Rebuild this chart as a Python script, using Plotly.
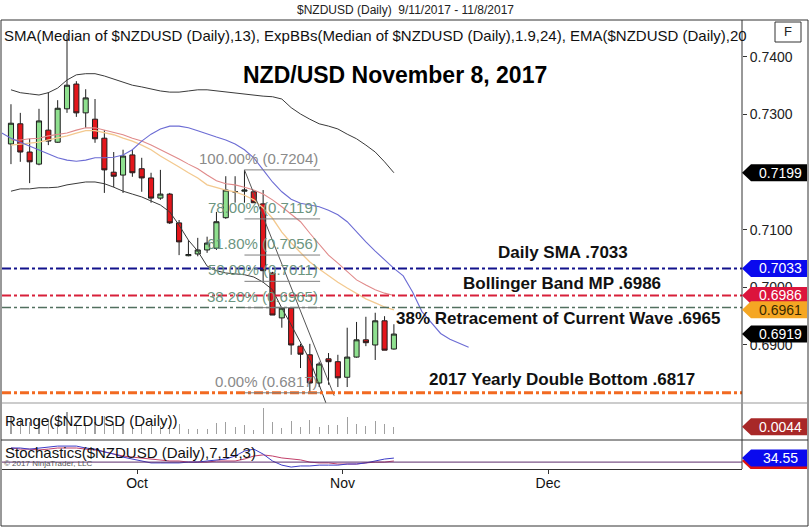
import numpy as np
import pandas as pd
import plotly.graph_objects as go

# ---------------- data ----------------
dates = pd.bdate_range("2017-09-12", "2017-11-08")
calendar = pd.bdate_range("2017-09-12", "2017-12-29")
month_labels = ["Oct", "Nov", "Dec"]
price_ticks = [0.69, 0.70, 0.71, 0.73, 0.74]

opens = [0.7249, 0.7284, 0.7235, 0.7214, 0.7273, 0.7252, 0.7310, 0.7353, 0.7303, 0.7292,
         0.7259, 0.7200, 0.7195, 0.7230, 0.7206, 0.7190, 0.7155, 0.7162, 0.7112, 0.7055,
         0.7058, 0.7065, 0.7068, 0.7121, 0.7166, 0.7167, 0.7166, 0.7145, 0.7025, 0.6947,
         0.6964, 0.6898, 0.6883, 0.6834, 0.6876, 0.6871, 0.6844, 0.6879, 0.6909, 0.6900,
         0.6942, 0.6893]
highs = [0.7318, 0.7303, 0.7258, 0.7310, 0.7339, 0.7325, 0.7438, 0.7358, 0.7344, 0.7327,
         0.7273, 0.7235, 0.7239, 0.7239, 0.7225, 0.7199, 0.7204, 0.7164, 0.7117, 0.7082,
         0.7086, 0.7088, 0.7131, 0.7193, 0.7193, 0.7204, 0.7169, 0.7169, 0.7027, 0.6966,
         0.6966, 0.6902, 0.6902, 0.6871, 0.6886, 0.6883, 0.6930, 0.6940, 0.6949, 0.6956,
         0.6950, 0.6936]
lows = [0.7214, 0.7218, 0.7181, 0.7212, 0.7247, 0.7251, 0.7303, 0.7296, 0.7277, 0.7251,
        0.7164, 0.7174, 0.7164, 0.7192, 0.7166, 0.7147, 0.7152, 0.7110, 0.7056, 0.7054,
        0.7054, 0.7060, 0.7065, 0.7119, 0.7147, 0.7147, 0.7147, 0.7009, 0.6952, 0.6930,
        0.6883, 0.6860, 0.6817, 0.6827, 0.6831, 0.6827, 0.6827, 0.6878, 0.6898, 0.6874,
        0.6891, 0.6892]
closes = [0.7285, 0.7235, 0.7218, 0.7289, 0.7254, 0.7311, 0.7351, 0.7303, 0.7329, 0.7258,
          0.7204, 0.7193, 0.7228, 0.7199, 0.7190, 0.7155, 0.7162, 0.7112, 0.7079, 0.7057,
          0.7065, 0.7077, 0.7114, 0.7169, 0.7166, 0.7169, 0.7147, 0.7029, 0.6952, 0.6964,
          0.6900, 0.6884, 0.6834, 0.6867, 0.6871, 0.6843, 0.6879, 0.6909, 0.6904, 0.6942,
          0.6891, 0.6919]

upper_band = [0.7343, 0.7338, 0.7336, 0.7334, 0.7338, 0.7346, 0.7360, 0.7369, 0.7371, 0.7371,
              0.7367, 0.7362, 0.7357, 0.7351, 0.7348, 0.7344, 0.7341, 0.7339, 0.7339, 0.7341,
              0.7343, 0.7343, 0.7341, 0.7339, 0.7338, 0.7336, 0.7334, 0.7332, 0.7331, 0.7327,
              0.7312, 0.7301, 0.7292, 0.7284, 0.7280, 0.7275, 0.7266, 0.7258, 0.7247, 0.7235,
              0.7218, 0.7199]
mid_band = [0.7256, 0.7256, 0.7258, 0.7259, 0.7263, 0.7266, 0.7268, 0.7273, 0.7277, 0.7277,
            0.7273, 0.7270, 0.7265, 0.7259, 0.7254, 0.7247, 0.7239, 0.7232, 0.7223, 0.7214,
            0.7206, 0.7195, 0.7185, 0.7180, 0.7178, 0.7174, 0.7169, 0.7162, 0.7152, 0.7140,
            0.7127, 0.7114, 0.7094, 0.7074, 0.7056, 0.7042, 0.7027, 0.7013, 0.7004, 0.6996,
            0.6990, 0.6986]
lower_band = [0.7167, 0.7171, 0.7171, 0.7173, 0.7173, 0.7174, 0.7178, 0.7180, 0.7183, 0.7183,
              0.7180, 0.7174, 0.7167, 0.7162, 0.7157, 0.7150, 0.7143, 0.7131, 0.7108, 0.7082,
              0.7063, 0.7037, 0.7029, 0.7025, 0.7023, 0.7022, 0.7018, 0.7009, 0.6996, 0.6964,
              0.6935, 0.6905, 0.6874, 0.6831, 0.6787]
ema20 = [0.7247, 0.7249, 0.7251, 0.7252, 0.7256, 0.7259, 0.7263, 0.7268, 0.7272, 0.7272,
         0.7268, 0.7265, 0.7259, 0.7254, 0.7247, 0.7239, 0.7228, 0.7219, 0.7209, 0.7199,
         0.7190, 0.7178, 0.7173, 0.7169, 0.7166, 0.7160, 0.7152, 0.7138, 0.7120, 0.7096,
         0.7077, 0.7060, 0.7044, 0.7032, 0.7020, 0.7009, 0.6999, 0.6990, 0.6980, 0.6973,
         0.6966, 0.6961]
sma13_start = -1
sma13 = [0.7268, 0.7259, 0.7252, 0.7245, 0.7239, 0.7232, 0.7225, 0.7221, 0.7219, 0.7221,
         0.7225, 0.7225, 0.7226, 0.7230, 0.7239, 0.7254, 0.7266, 0.7275, 0.7280, 0.7280,
         0.7277, 0.7272, 0.7266, 0.7261, 0.7256, 0.7249, 0.7239, 0.7225, 0.7204, 0.7183,
         0.7166, 0.7153, 0.7146, 0.7143, 0.7140, 0.7134, 0.7126, 0.7114, 0.7096, 0.7079,
         0.7063, 0.7048, 0.7033, 0.7020, 0.6992, 0.6958, 0.6938, 0.6920, 0.6910, 0.6903,
         0.6896]
stoch_d = [71, 71, 67, 71, 75, 78, 78, 78, 71, 67, 57, 49, 38, 31, 24, 17, 17, 17, 17, 20,
           20, 24, 28, 31, 42, 60, 67, 49, 24, 9, 2, 6, 6, 9, 9, 9, 13, 13, 17, 24, 31, 34.55]
stoch_k = [71, 67, 67, 64, 67, 71, 71, 71, 67, 64, 57, 49, 42, 38, 35, 31, 28, 24, 24, 20,
           20, 20, 24, 24, 24, 31, 42, 46, 42, 35, 31, 28, 20, 17, 17, 13, 13, 13, 17, 20, 20, 24]

fib_high, fib_low = 0.7204, 0.6817
fib_levels = [1.0, 0.78, 0.618, 0.50, 0.382, 0.0]
fib_labels = ["100.00% (0.7204)", "78.00% (0.7119)", "61.80% (0.7056)",
              "50.00% (0.7011)", "38.20% (0.6965)", "0.00% (0.6817)"]
sma_line, bb_mid_line, retr_line, bottom_line = 0.7033, 0.6986, 0.6965, 0.6817

# ---------------- geometry helpers ----------------
W, H = 810, 528
X0, X1 = 2, 742
def px(x):
    return x / W
def py(y):
    return 1 - y / H

idx = np.arange(len(dates))
xr = [-0.96, 78.27]
y_price = [0.67993, 0.74642]
y_range = [-0.0037, 0.0191]
y_stoch = [-5, 100]
dom_price = [py(403), py(20)]
dom_range = [py(440), py(403)]
dom_stoch = [py(469), py(440)]

month_pos = []
for m in [10, 11, 12]:
    first = np.where(calendar.month == m)[0][0]
    month_pos.append(first - 0.5)

font = "Liberation Sans, Arial, sans-serif"
fig = go.Figure()

fig.add_trace(go.Scatter(x=idx, y=upper_band, mode="lines", line=dict(color="#3a3a3a", width=1), hoverinfo="skip"))
fig.add_trace(go.Scatter(x=idx[:len(lower_band)], y=lower_band, mode="lines", line=dict(color="#3a3a3a", width=1), hoverinfo="skip"))
fig.add_trace(go.Scatter(x=idx, y=ema20, mode="lines", line=dict(color="#f3c98f", width=1.3), hoverinfo="skip"))
fig.add_trace(go.Scatter(x=idx, y=mid_band, mode="lines", line=dict(color="#e08a8a", width=1.1), hoverinfo="skip"))
fig.add_trace(go.Scatter(x=np.arange(sma13_start, sma13_start + len(sma13)), y=sma13, mode="lines",
                         line=dict(color="#6c6cd4", width=1.1), hoverinfo="skip"))

# fib diagonal
fig.add_trace(go.Scatter(x=[25, 34.6], y=[fib_high, fib_low - 0.0005], mode="lines",
                         line=dict(color="#555", width=1), hoverinfo="skip"))

fig.add_trace(go.Candlestick(x=idx, open=opens, high=highs, low=lows, close=closes,
                             increasing=dict(line=dict(color="#1e1e1e", width=1), fillcolor="#8fe08f"),
                             decreasing=dict(line=dict(color="#1e1e1e", width=1), fillcolor="#e3161b"),
                             whiskerwidth=0, hoverinfo="skip"))

rng = np.array(highs) - np.array(lows)
fig.add_trace(go.Bar(x=idx, y=rng, width=0.12, marker=dict(color="#a0a0a0", line=dict(width=0)),
                     xaxis="x2", yaxis="y2", hoverinfo="skip"))

fig.add_trace(go.Scatter(x=idx, y=stoch_k, mode="lines", line=dict(color="#c2406a", width=1),
                         xaxis="x3", yaxis="y3", hoverinfo="skip"))
fig.add_trace(go.Scatter(x=idx, y=stoch_d, mode="lines", line=dict(color="#3d3dc8", width=1),
                         xaxis="x3", yaxis="y3", hoverinfo="skip"))

shapes = []
annos = []

def text(x, y, s, size, color="#111", xanchor="center", xref="paper", yref="paper", yshift=0, bold=False):
    annos.append(dict(x=x, y=y, xref=xref, yref=yref, text=f"<b>{s}</b>" if bold else s, showarrow=False,
                      xanchor=xanchor, yanchor="middle", yshift=yshift,
                      font=dict(family=font, size=size, color=color)))

# horizontal user lines
def hline(v, color, width, dash):
    shapes.append(dict(type="line", xref="paper", yref="y", x0=px(X0), x1=px(X1), y0=v, y1=v,
                       line=dict(color=color, width=width, dash=dash)))
hline(sma_line, "#12128c", 2, "dashdot")
hline(bb_mid_line, "#d8203a", 2, "dashdot")
hline(retr_line, "#52705f", 1.5, "dashdot")
hline(bottom_line, "#f26a21", 3, "dashdot")

# stochastic reference line
shapes.append(dict(type="line", xref="paper", yref="y3", x0=px(X0), x1=px(X1), y0=20, y1=20,
                   line=dict(color="#5a2a6a", width=1)))

# fib levels
for lvl, lab in zip(fib_levels, fib_labels):
    v = fib_low + lvl * (fib_high - fib_low)
    col = "#8a8a8a" if lvl in (1.0, 0.0) else "#6c957f"
    shapes.append(dict(type="line", xref="x", yref="y", x0=25, x1=33.1, y0=v, y1=v,
                       line=dict(color="#7f7f7f", width=1)))
    annos.append(dict(x=33.1, y=v, xref="x", yref="y", text=lab, showarrow=False, xanchor="right",
                      yanchor="bottom", yshift=1, font=dict(family=font, size=15, color=col)))

# frame lines
shapes.append(dict(type="rect", xref="paper", yref="paper", x0=px(1), x1=px(808), y0=py(526), y1=py(20),
                   line=dict(color="#333", width=1)))
shapes.append(dict(type="line", xref="paper", yref="paper", x0=px(X1), x1=px(X1), y0=py(469), y1=py(20),
                   line=dict(color="#333", width=1)))
shapes.append(dict(type="line", xref="paper", yref="paper", x0=px(1), x1=px(808), y0=py(403), y1=py(403),
                   line=dict(color="#999", width=1)))
shapes.append(dict(type="line", xref="paper", yref="paper", x0=px(1), x1=px(808), y0=py(440), y1=py(440),
                   line=dict(color="#333", width=1)))
shapes.append(dict(type="rect", xref="paper", yref="paper", x0=px(775), x1=px(801), y0=py(42), y1=py(22),
                   line=dict(color="#333", width=1), fillcolor="white"))
text(px(788), py(32), "F", 13, "#222")

# value flags
def flag(v, label, bg, fg, yref, yspan, panel_px):
    h = 8.5 * (yspan[1] - yspan[0]) / panel_px
    xt, xb, xe = px(742), px(751), px(807)
    shapes.append(dict(type="path", xref="paper", yref=yref,
                       path=f"M {xt},{v} L {xb},{v + h} L {xe},{v + h} L {xe},{v - h} L {xb},{v - h} Z",
                       fillcolor=bg, line=dict(width=0)))
    if label:
        text((xb + xe) / 2 + 0.002, v, label, 14, fg, yref=yref)

flag(upper_band[-1], f"{upper_band[-1]:.4f}", "#000000", "white", "y", y_price, 383)
flag(sma_line, f"{sma_line:.4f}", "#0a0aee", "white", "y", y_price, 383)
flag(mid_band[-1], f"{mid_band[-1]:.4f}", "#dc143c", "white", "y", y_price, 383)
flag(ema20[-1], f"{ema20[-1]:.4f}", "#f5a623", "#3a2a00", "y", y_price, 383)
flag(closes[-1], f"{closes[-1]:.4f}", "#000000", "white", "y", y_price, 383)
flag(float(rng[-1]), f"{rng[-1]:.4f}", "#a82828", "white", "y2", y_range, 37)
flag(stoch_k[-1], "", "#dd1111", "white", "y3", y_stoch, 29)
flag(stoch_d[-1], f"{stoch_d[-1]:.2f}", "#0a0aee", "white", "y3", y_stoch, 29)

# texts
text(px(405), py(10), "$NZDUSD (Daily)  9/11/2017 - 11/8/2017", 12, "#222")
text(px(2), py(35), "SMA(Median of $NZDUSD (Daily),13), ExpBBs(Median of $NZDUSD (Daily),1.9,24), EMA($NZDUSD (Daily),20",
     15, "#111", xanchor="left")
text(px(395), py(75), "NZD/USD November 8, 2017", 23, "#000", bold=True)
text(px(563), sma_line, "Daily SMA .7033", 17, yref="y", yshift=16, bold=True)
text(px(562), bb_mid_line, "Bollinger Band MP .6986", 17, yref="y", yshift=12, bold=True)
text(px(558), retr_line, "38% Retracement of Current Wave .6965", 17, yref="y", yshift=-11, bold=True)
text(px(562), bottom_line, "2017 Yearly Double Bottom .6817", 17, yref="y", yshift=13, bold=True)
text(px(3), py(420), "Range($NZDUSD (Daily))", 15, xanchor="left")
text(px(3), py(452), "Stochastics($NZDUSD (Daily),7,14,3)", 15, xanchor="left")
text(px(2), py(463), "© 2017 NinjaTrader, LLC", 8, "#555", xanchor="left")

fig.update_layout(
    width=W, height=H, margin=dict(l=0, r=0, t=0, b=0),
    paper_bgcolor="white", plot_bgcolor="rgba(0,0,0,0)", showlegend=False,
    shapes=shapes, annotations=annos, boxgap=0.22,
    xaxis=dict(domain=[px(X0), px(X1)], range=xr, anchor="y", showticklabels=False, showgrid=False,
               zeroline=False, rangeslider=dict(visible=False), ticks=""),
    xaxis2=dict(domain=[px(X0), px(X1)], range=xr, anchor="y2", matches="x", showticklabels=False,
                showgrid=False, zeroline=False),
    xaxis3=dict(domain=[px(X0), px(X1)], range=xr, anchor="y3", matches="x", showgrid=False, zeroline=False,
                tickvals=month_pos, ticktext=month_labels, ticks="outside", ticklen=4, tickcolor="#333",
                ticklabelstandoff=-3,
                showline=True, linecolor="#333", tickfont=dict(family=font, size=14, color="#111")),
    yaxis=dict(domain=dom_price, range=y_price, side="right", showgrid=False, zeroline=False,
               tickvals=price_ticks, tickformat=".4f", ticks="outside", ticklen=4,
               tickcolor="#333", tickfont=dict(family=font, size=14, color="#222")),
    yaxis2=dict(domain=dom_range, range=y_range, showticklabels=False, showgrid=False, zeroline=False),
    yaxis3=dict(domain=dom_stoch, range=y_stoch, showticklabels=False, showgrid=False, zeroline=False),
    bargap=0,
)

fig.write_html("out.html", config={"displayModeBar": False, "staticPlot": True},
               post_script="document.body.style.margin='0';document.body.style.overflow='hidden';")
